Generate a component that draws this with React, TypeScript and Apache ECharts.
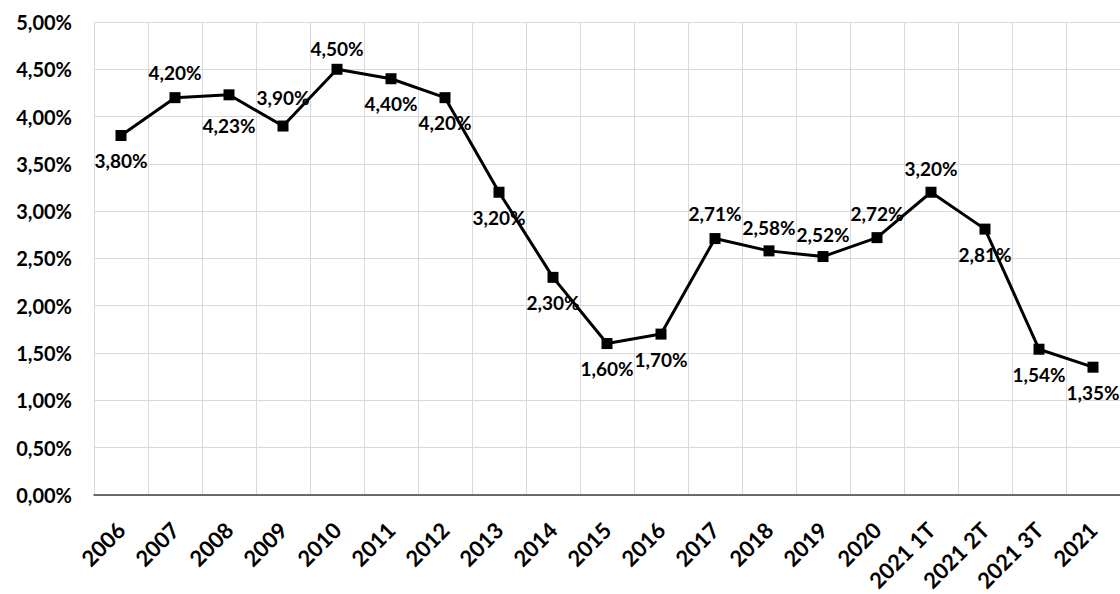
import React, { useEffect, useRef } from "react";
import * as echarts from "echarts";

const categories = [
  "2006", "2007", "2008", "2009", "2010", "2011", "2012", "2013", "2014", "2015",
  "2016", "2017", "2018", "2019", "2020", "2021 1T", "2021 2T", "2021 3T", "2021",
];
const values = [
  3.8, 4.2, 4.23, 3.9, 4.5, 4.4, 4.2, 3.2, 2.3, 1.6,
  1.7, 2.71, 2.58, 2.52, 2.72, 3.2, 2.81, 1.54, 1.35,
];
const labelSides = [
  "bottom", "top", "bottom", "top", "top", "bottom", "bottom", "bottom", "bottom", "bottom",
  "bottom", "top", "top", "top", "top", "top", "bottom", "bottom", "bottom",
];
const labelDistances = [
  10, 10, 16, 14, 6, 10, 10, 10, 10, 10,
  10, 10, 8, 7, 9, 9, 10, 10, 10,
];

const fmt = (v: number) => v.toFixed(2).replace(".", ",") + "%";

export default function App() {
  const ref = useRef<HTMLDivElement>(null);
  useEffect(() => {
    document.body.style.margin = "0";
    const chart = echarts.init(ref.current!, null, { renderer: "svg" });
    const font = "Lato";
    chart.setOption({
      animation: false,
      backgroundColor: "#ffffff",
      grid: { left: 94, right: 0, top: 22, bottom: 98, containLabel: false },
      xAxis: {
        type: "category",
        data: categories,
        boundaryGap: true,
        axisLine: { show: true, lineStyle: { color: "#404040", width: 1.5 } },
        axisTick: { show: false },
        splitLine: { show: true, lineStyle: { color: "#d9d9d9", width: 1 } },
        axisLabel: {
          rotate: 45,
          interval: 0,
          margin: 31,
          color: "#000",
          fontFamily: font,
          fontWeight: "bold",
          fontSize: 22,
        },
      },
      yAxis: {
        type: "value",
        min: 0,
        max: 5,
        interval: 0.5,
        axisLine: { show: false },
        axisTick: { show: false },
        splitLine: { show: true, lineStyle: { color: "#d9d9d9", width: 1 } },
        axisLabel: {
          margin: 22,
          color: "#000",
          fontFamily: font,
          fontWeight: "bold",
          fontSize: 20,
          formatter: (v: number) => fmt(v),
        },
      },
      series: [
        {
          type: "line",
          data: values.map((v, i) => ({
            value: v,
            label: { position: labelSides[i], distance: labelDistances[i] },
          })),
          symbol: "rect",
          symbolSize: 11,
          itemStyle: { color: "#000" },
          lineStyle: { color: "#000", width: 3 },
          label: {
            show: true,
            color: "#000",
            fontFamily: font,
            fontWeight: "bold",
            fontSize: 19,
            formatter: (p: any) => fmt(p.value),
          },
        },
      ],
    });
    return () => chart.dispose();
  }, []);
  return (
    <div
      ref={ref}
      style={{ position: "absolute", left: 0, top: 0, width: 1120, height: 594 }}
    />
  );
}
